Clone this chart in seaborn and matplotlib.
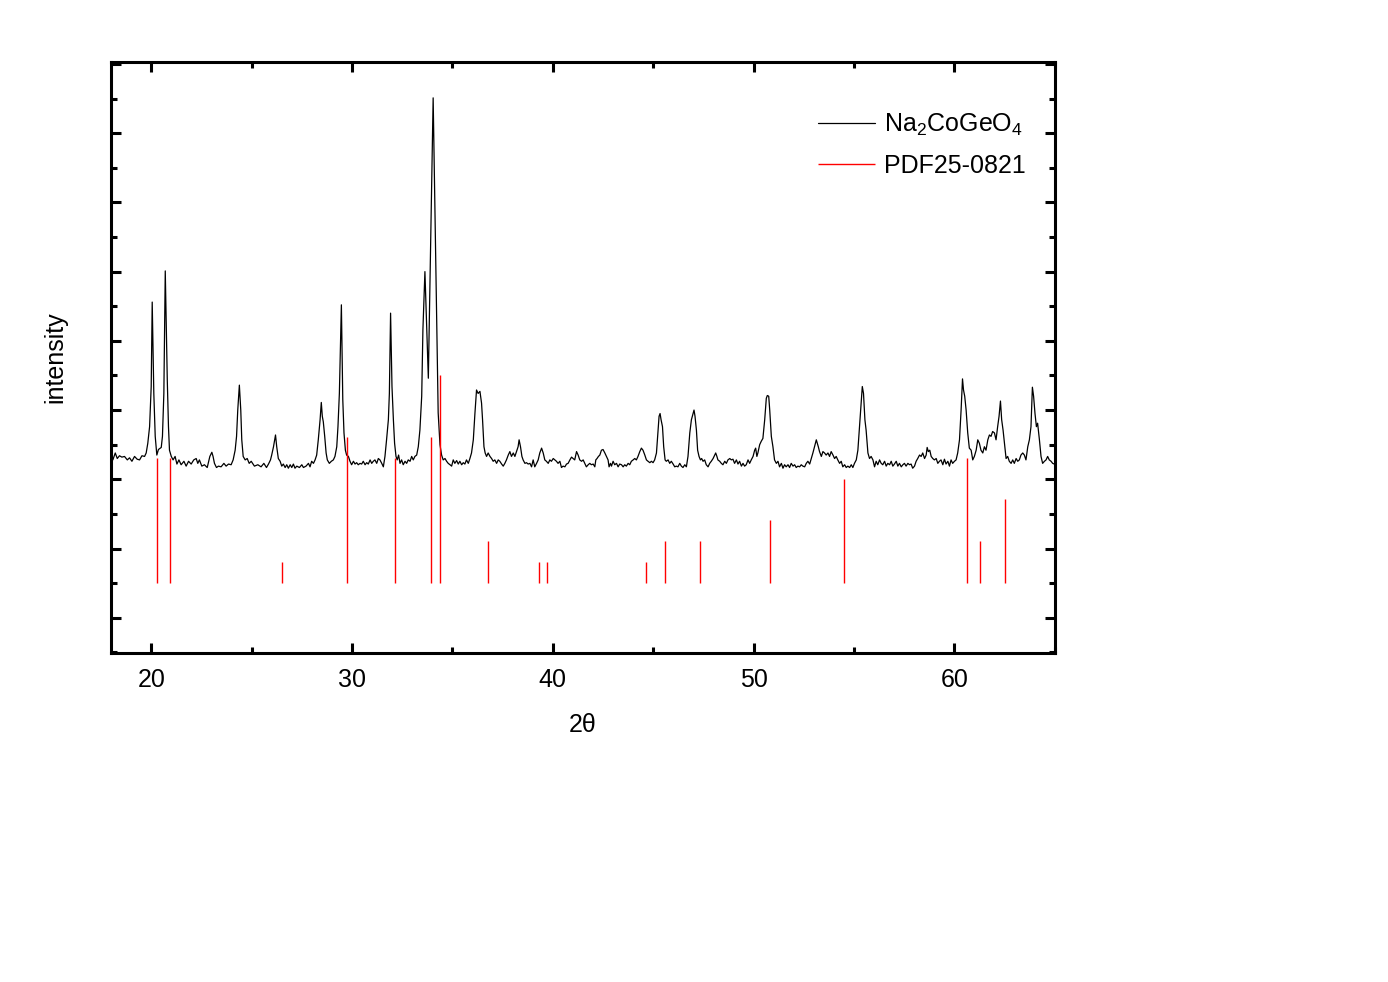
import numpy as np
import matplotlib
matplotlib.use('Agg')
import matplotlib.pyplot as plt
import seaborn as sns
from matplotlib.ticker import MultipleLocator

# XRD pattern (2theta, intensity a.u.)
two_theta = [
    18.09, 18.21, 18.31, 18.42, 18.54, 18.67, 18.81, 18.92, 19.04, 19.17, 19.30, 19.42, 19.54, 19.67, 19.75, 19.83,
    19.92, 20.00, 20.05, 20.13, 20.20, 20.28, 20.36, 20.50, 20.56, 20.63, 20.70, 20.80, 20.86, 20.91, 21.00, 21.09,
    21.19, 21.28, 21.38, 21.49, 21.63, 21.74, 21.86, 21.99, 22.12, 22.24, 22.32, 22.40, 22.52, 22.65, 22.79, 22.92,
    23.02, 23.08, 23.15, 23.25, 23.35, 23.48, 23.62, 23.73, 23.85, 23.98, 24.08, 24.18, 24.25, 24.31, 24.39, 24.46,
    24.51, 24.58, 24.68, 24.78, 24.88, 24.98, 25.14, 25.31, 25.47, 25.61, 25.74, 25.84, 25.94,
    26.00, 26.09, 26.19, 26.25, 26.33, 26.42, 26.50, 26.58, 26.67, 26.75, 26.83, 26.92, 27.00, 27.08, 27.16, 27.25,
    27.38, 27.50, 27.58, 27.71, 27.83, 27.91, 27.99, 28.08, 28.16, 28.24, 28.32, 28.41, 28.47, 28.52, 28.57, 28.64,
    28.71, 28.77, 28.87, 28.97, 29.07, 29.15, 29.24, 29.30, 29.37, 29.47, 29.54, 29.60, 29.67, 29.73, 29.82, 29.90,
    29.98, 30.07, 30.15, 30.23, 30.31, 30.40, 30.48, 30.56, 30.65, 30.73, 30.81, 30.90, 30.98, 31.06, 31.14, 31.23,
    31.31, 31.39, 31.48, 31.56, 31.64, 31.72, 31.81, 31.86, 31.92, 31.99, 32.06, 32.12, 32.19, 32.25, 32.32, 32.39,
    32.47, 32.55, 32.64, 32.72, 32.80, 32.89, 32.97, 33.05, 33.13, 33.22, 33.30, 33.38, 33.47, 33.53, 33.63, 33.80,
    34.04, 34.21, 34.29,
    34.38, 34.46, 34.54, 34.63, 34.71, 34.79, 34.88, 34.96, 35.04, 35.12, 35.21, 35.29, 35.37, 35.46, 35.54, 35.62,
    35.70, 35.79, 35.87, 35.95, 36.04, 36.12, 36.20, 36.28, 36.37, 36.45, 36.50, 36.57, 36.63, 36.70, 36.78, 36.87,
    36.95, 37.03, 37.11, 37.20, 37.28, 37.36, 37.45, 37.53, 37.61, 37.69, 37.78, 37.86, 37.94, 38.03, 38.11, 38.19,
    38.27, 38.32, 38.39, 38.46, 38.52, 38.61, 38.69, 38.77, 38.86, 38.94, 39.02, 39.10, 39.19, 39.27, 39.35, 39.44,
    39.52, 39.60, 39.68, 39.77, 39.85, 39.93, 40.02, 40.10, 40.18, 40.26, 40.35, 40.43, 40.51, 40.60, 40.68, 40.76,
    40.85, 40.93, 41.01, 41.09, 41.18, 41.26, 41.34, 41.43, 41.51, 41.59, 41.67, 41.76, 41.84,
    41.92, 42.01, 42.09, 42.14, 42.20, 42.27, 42.34, 42.42, 42.50, 42.59, 42.67, 42.75, 42.80, 42.87, 42.92, 43.00,
    43.08, 43.17, 43.25, 43.33, 43.42, 43.50, 43.58, 43.66, 43.75, 43.83, 43.91, 44.00, 44.08, 44.16, 44.24, 44.33,
    44.41, 44.49, 44.58, 44.66, 44.74, 44.83, 44.91, 44.99, 45.07, 45.16, 45.22, 45.29, 45.34, 45.39, 45.46, 45.52,
    45.59, 45.65, 45.74, 45.82, 45.90, 45.99, 46.07, 46.15, 46.23, 46.32, 46.40, 46.48, 46.57, 46.65, 46.73, 46.82,
    46.90, 46.98, 47.03, 47.08, 47.15, 47.21, 47.28, 47.35, 47.41, 47.48, 47.56, 47.64, 47.73, 47.81, 47.89, 47.98,
    48.06, 48.11, 48.17, 48.22, 48.31, 48.39, 48.47, 48.56, 48.64, 48.72, 48.81, 48.89, 48.97, 49.05, 49.14, 49.22,
    49.30, 49.39, 49.47, 49.55, 49.63, 49.72, 49.80,
    49.88, 49.97, 50.05, 50.10, 50.16, 50.21, 50.30, 50.38, 50.46, 50.55, 50.63, 50.68, 50.75, 50.80, 50.88, 50.96,
    51.04, 51.13, 51.21, 51.29, 51.38, 51.46, 51.54, 51.62, 51.71, 51.79, 51.87, 51.96, 52.04, 52.12, 52.20, 52.29,
    52.37, 52.45, 52.54, 52.62, 52.70, 52.79, 52.87, 52.95, 53.03, 53.12, 53.17, 53.22, 53.28, 53.37, 53.45, 53.53,
    53.61, 53.70, 53.78, 53.86, 53.95, 54.03, 54.11, 54.19, 54.28, 54.36, 54.44, 54.53, 54.61, 54.69, 54.78, 54.86,
    54.94, 55.02, 55.11, 55.19, 55.27, 55.36, 55.41, 55.47, 55.54, 55.60, 55.69, 55.77, 55.85, 55.94, 56.02, 56.10,
    56.18, 56.27, 56.35, 56.43, 56.52, 56.60, 56.68, 56.77, 56.85, 56.93, 57.01, 57.10, 57.18, 57.26, 57.35, 57.43,
    57.51, 57.59, 57.68, 57.76,
    57.84, 57.92, 58.01, 58.09, 58.17, 58.26, 58.34, 58.42, 58.51, 58.59, 58.64, 58.70, 58.77, 58.84, 58.92, 59.00,
    59.09, 59.17, 59.25, 59.33, 59.42, 59.50, 59.58, 59.67, 59.75, 59.83, 59.91, 60.00, 60.08, 60.16, 60.25, 60.33,
    60.40, 60.45, 60.51, 60.58, 60.66, 60.74, 60.83, 60.91, 60.99, 61.08, 61.16, 61.24, 61.32, 61.41, 61.49, 61.57,
    61.66, 61.74, 61.82, 61.90, 61.99, 62.07, 62.15, 62.22, 62.29, 62.35, 62.42, 62.49, 62.57, 62.65, 62.73, 62.82,
    62.90, 62.98, 63.07, 63.15, 63.23, 63.31, 63.40, 63.48, 63.56, 63.65, 63.73, 63.81, 63.88, 63.94, 64.01, 64.08,
    64.14, 64.23, 64.31, 64.39, 64.48, 64.56, 64.64, 64.72, 64.81, 64.89, 64.97,
]
intensity = [
    228, 238, 230, 234, 232, 233, 228, 231, 226, 233, 229, 228, 234, 233, 238, 252,
    276, 334, 456, 324, 262, 235, 243, 246, 262, 324, 501, 344, 276, 242, 233, 228,
    233, 222, 228, 221, 226, 219, 226, 222, 228, 230, 223, 228, 219, 221, 217, 233,
    239, 233, 223, 217, 219, 218, 223, 219, 222, 221, 228, 242, 262, 300, 336, 300,
    257, 233, 228, 230, 223, 226, 219, 221, 218, 223, 217, 222, 228,
    235, 247, 264, 247, 230, 226, 219, 222, 217, 221, 216, 221, 217, 222, 216, 219,
    217, 221, 217, 219, 223, 218, 226, 223, 228, 235, 257, 286, 311, 291, 283, 262,
    238, 228, 223, 226, 228, 233, 247, 276, 324, 452, 315, 267, 242, 235, 233, 226,
    221, 226, 222, 224, 221, 223, 222, 226, 221, 224, 222, 228, 223, 226, 228, 223,
    230, 228, 223, 218, 233, 257, 286, 324, 440, 334, 286, 252, 233, 228, 235, 223,
    228, 221, 226, 223, 228, 226, 233, 228, 233, 235, 247, 271, 320, 416, 500, 346,
    751, 440, 296,
    250, 235, 228, 230, 226, 223, 221, 219, 228, 223, 227, 222, 226, 221, 224, 222,
    228, 223, 230, 238, 257, 295, 329, 324, 327, 310, 286, 247, 238, 233, 238, 233,
    230, 226, 228, 223, 228, 226, 222, 219, 223, 228, 235, 240, 233, 238, 233, 240,
    247, 257, 247, 233, 228, 223, 224, 222, 223, 218, 228, 218, 223, 228, 238, 245,
    238, 228, 226, 223, 228, 226, 230, 228, 226, 223, 226, 217, 219, 218, 222, 223,
    228, 232, 230, 228, 240, 235, 228, 226, 228, 223, 218, 221, 223,
    221, 222, 218, 228, 230, 233, 235, 242, 243, 238, 233, 228, 218, 223, 219, 226,
    221, 223, 218, 222, 221, 218, 221, 219, 223, 221, 226, 228, 230, 228, 233, 240,
    245, 242, 235, 228, 226, 224, 226, 224, 228, 238, 262, 291, 295, 286, 276, 247,
    228, 226, 228, 223, 226, 222, 218, 219, 218, 223, 219, 217, 221, 218, 233, 267,
    286, 295, 300, 291, 271, 242, 233, 228, 230, 226, 228, 221, 218, 223, 226, 230,
    235, 238, 233, 228, 226, 223, 221, 226, 223, 228, 230, 228, 229, 223, 228, 222,
    226, 219, 223, 219, 221, 228, 223,
    228, 233, 242, 245, 233, 238, 250, 255, 259, 286, 317, 321, 320, 300, 262, 247,
    228, 223, 226, 218, 223, 216, 221, 218, 221, 217, 223, 219, 221, 217, 219, 218,
    221, 219, 218, 223, 226, 222, 230, 238, 247, 257, 252, 247, 240, 233, 240, 238,
    235, 238, 233, 240, 235, 230, 233, 228, 223, 226, 218, 221, 217, 219, 217, 221,
    217, 223, 228, 242, 276, 315, 334, 324, 286, 271, 238, 230, 233, 228, 218, 226,
    221, 228, 223, 221, 226, 219, 223, 221, 226, 219, 222, 226, 219, 223, 218, 221,
    223, 219, 223, 221,
    222, 216, 219, 226, 230, 235, 233, 238, 230, 235, 246, 240, 242, 233, 230, 228,
    230, 223, 226, 228, 221, 229, 222, 226, 219, 228, 223, 226, 228, 238, 257, 300,
    345, 329, 320, 300, 267, 245, 242, 228, 233, 242, 257, 252, 242, 238, 247, 242,
    257, 264, 262, 269, 267, 257, 276, 291, 313, 286, 271, 252, 230, 233, 226, 223,
    228, 223, 230, 226, 228, 235, 238, 235, 228, 247, 257, 276, 333, 320, 295, 276,
    281, 257, 233, 223, 226, 228, 233, 228, 226, 223, 222,
]

# reference card PDF25-0821 stick positions and heights
pdf_pos = [20.28, 20.93, 26.50, 29.75, 32.15, 33.93, 34.39, 36.78, 39.29, 39.69,
           44.63, 45.58, 47.33, 50.83, 54.49, 60.63, 61.26, 62.52]
pdf_top = [231, 231, 81, 261, 231, 261, 351, 111, 81, 81,
           81, 111, 111, 141, 201, 231, 111, 171]
pdf_base = 50

sns.set_theme(style='ticks')
plt.rcParams['font.family'] = ['Liberation Sans', 'DejaVu Sans']
plt.rcParams['mathtext.fontset'] = 'custom'
plt.rcParams['mathtext.rm'] = 'Liberation Sans'
plt.rcParams['text.color'] = 'black'
plt.rcParams['axes.labelcolor'] = 'black'
plt.rcParams['xtick.color'] = 'black'
plt.rcParams['ytick.color'] = 'black'

fig = plt.figure(figsize=(13.88, 9.82), dpi=100)
ax = fig.add_axes([0.080, 0.335, 0.680, 0.602])

sns.lineplot(x=two_theta, y=intensity, color='black', linewidth=0.9,
             label='Na$_2$CoGeO$_4$', ax=ax, sort=False)
ax.vlines(pdf_pos, pdf_base, pdf_top, colors='red', linewidth=1.0,
          label='PDF25-0821')

ax.set_xlim(18, 65)
ax.set_ylim(-51, 803)
ax.xaxis.set_major_locator(MultipleLocator(10))
ax.xaxis.set_minor_locator(MultipleLocator(5))
ax.yaxis.set_major_locator(MultipleLocator(100))
ax.yaxis.set_minor_locator(MultipleLocator(50))
ax.tick_params(axis='both', which='both', direction='in', top=True, right=True,
               width=2.2, colors='black')
ax.tick_params(axis='both', which='major', length=7.5)
ax.tick_params(axis='both', which='minor', length=4)
ax.tick_params(axis='x', labelsize=18, pad=11)
ax.tick_params(axis='y', labelleft=False)
for s in ax.spines.values():
    s.set_linewidth(2.2)
    s.set_color('black')

ax.set_xlabel('2θ', fontsize=18, labelpad=15)
ax.set_ylabel('intensity', fontsize=18, labelpad=28)

leg = ax.legend(loc='upper left', bbox_to_anchor=(0.749, 0.916), frameon=False,
                fontsize=18, handlelength=2.3, handletextpad=0.35,
                labelspacing=0.65, borderpad=0, borderaxespad=0)
for t in leg.get_texts():
    t.set_color('black')

fig.savefig('out.png', dpi=100)
